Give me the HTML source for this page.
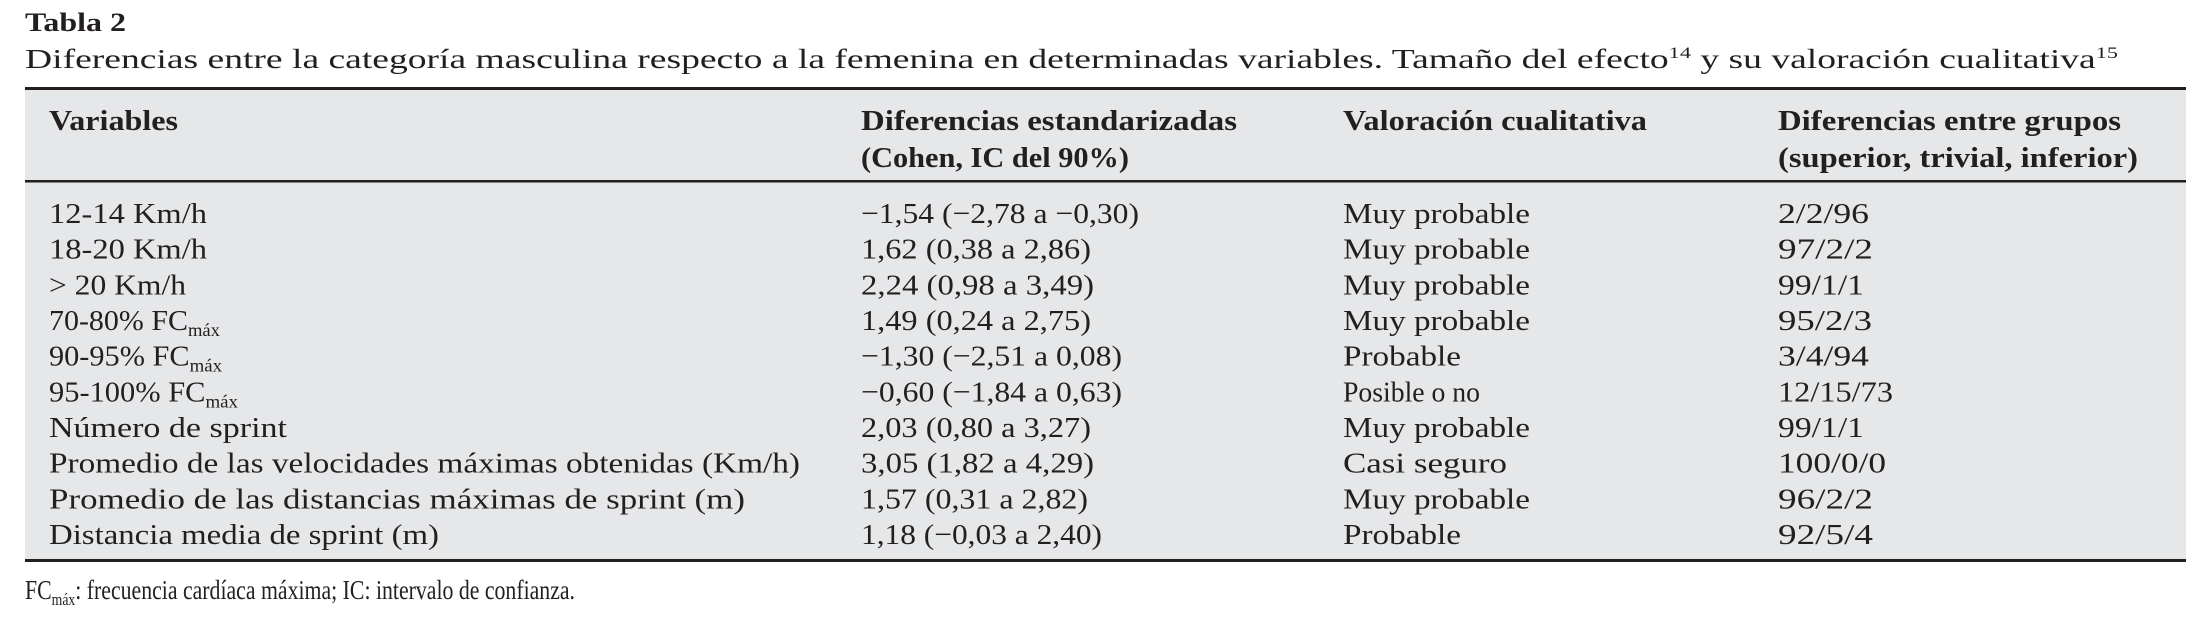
<!DOCTYPE html>
<html><head><meta charset="utf-8"><style>
html,body{margin:0;padding:0;background:#fff;}
svg{display:block;}
text{font-family:"Liberation Serif",serif;fill:#231f20;}
.b{font-weight:bold;}
</style></head><body>
<svg width="2200" height="620" viewBox="0 0 2200 620">
<text class="b" x="25" y="31" font-size="26" textLength="101" lengthAdjust="spacingAndGlyphs">Tabla 2</text>
<text x="25" y="68" font-size="27" textLength="2093" lengthAdjust="spacingAndGlyphs">Diferencias entre la categoría masculina respecto a la femenina en determinadas variables. Tamaño del efecto<tspan font-size="16" dy="-10">14</tspan><tspan dy="10"> y su valoración cualitativa</tspan><tspan font-size="16" dy="-10">15</tspan></text>
<rect x="25" y="88" width="2161" height="473" fill="#e6e7e8"/>
<rect x="25" y="87" width="2161" height="3" fill="#231f20"/>
<rect x="25" y="180" width="2161" height="2.5" fill="#231f20"/>
<rect x="25" y="559" width="2161" height="3" fill="#231f20"/>
<g class="b" font-size="28">
<text class="b" x="49" y="130" textLength="129" lengthAdjust="spacingAndGlyphs">Variables</text>
<text class="b" x="861" y="130" textLength="376" lengthAdjust="spacingAndGlyphs">Diferencias estandarizadas</text>
<text class="b" x="861" y="167" textLength="268" lengthAdjust="spacingAndGlyphs">(Cohen, IC del 90%)</text>
<text class="b" x="1343" y="130" textLength="304" lengthAdjust="spacingAndGlyphs">Valoración cualitativa</text>
<text class="b" x="1778" y="130" textLength="343" lengthAdjust="spacingAndGlyphs">Diferencias entre grupos</text>
<text class="b" x="1778" y="167" textLength="360" lengthAdjust="spacingAndGlyphs">(superior, trivial, inferior)</text>
</g>
<g font-size="29">
<text x="49" y="223" textLength="158" lengthAdjust="spacingAndGlyphs">12-14 Km/h</text>
<text x="861" y="223" textLength="278" lengthAdjust="spacingAndGlyphs">−1,54 (−2,78 a −0,30)</text>
<text x="1343" y="223" textLength="187" lengthAdjust="spacingAndGlyphs">Muy probable</text>
<text x="1778" y="223" textLength="91" lengthAdjust="spacingAndGlyphs">2/2/96</text>

<text x="49" y="258.7" textLength="158" lengthAdjust="spacingAndGlyphs">18-20 Km/h</text>
<text x="861" y="258.7" textLength="230" lengthAdjust="spacingAndGlyphs">1,62 (0,38 a 2,86)</text>
<text x="1343" y="258.7" textLength="187" lengthAdjust="spacingAndGlyphs">Muy probable</text>
<text x="1778" y="258.7" textLength="95" lengthAdjust="spacingAndGlyphs">97/2/2</text>

<text x="49" y="294.3" textLength="137" lengthAdjust="spacingAndGlyphs">&gt; 20 Km/h</text>
<text x="861" y="294.3" textLength="233" lengthAdjust="spacingAndGlyphs">2,24 (0,98 a 3,49)</text>
<text x="1343" y="294.3" textLength="187" lengthAdjust="spacingAndGlyphs">Muy probable</text>
<text x="1778" y="294.3" textLength="86" lengthAdjust="spacingAndGlyphs">99/1/1</text>

<text x="49" y="330" textLength="171" lengthAdjust="spacingAndGlyphs">70-80% FC<tspan font-size="18" dy="6">máx</tspan></text>
<text x="861" y="330" textLength="230" lengthAdjust="spacingAndGlyphs">1,49 (0,24 a 2,75)</text>
<text x="1343" y="330" textLength="187" lengthAdjust="spacingAndGlyphs">Muy probable</text>
<text x="1778" y="330" textLength="94" lengthAdjust="spacingAndGlyphs">95/2/3</text>

<text x="49" y="365.7" textLength="173" lengthAdjust="spacingAndGlyphs">90-95% FC<tspan font-size="18" dy="6">máx</tspan></text>
<text x="861" y="365.7" textLength="261" lengthAdjust="spacingAndGlyphs">−1,30 (−2,51 a 0,08)</text>
<text x="1343" y="365.7" textLength="118" lengthAdjust="spacingAndGlyphs">Probable</text>
<text x="1778" y="365.7" textLength="91" lengthAdjust="spacingAndGlyphs">3/4/94</text>

<text x="49" y="401.3" textLength="189" lengthAdjust="spacingAndGlyphs">95-100% FC<tspan font-size="18" dy="6">máx</tspan></text>
<text x="861" y="401.3" textLength="261" lengthAdjust="spacingAndGlyphs">−0,60 (−1,84 a 0,63)</text>
<text x="1343" y="401.3" textLength="137" lengthAdjust="spacingAndGlyphs">Posible o no</text>
<text x="1778" y="401.3" textLength="115" lengthAdjust="spacingAndGlyphs">12/15/73</text>

<text x="49" y="437" textLength="238" lengthAdjust="spacingAndGlyphs">Número de sprint</text>
<text x="861" y="437" textLength="230" lengthAdjust="spacingAndGlyphs">2,03 (0,80 a 3,27)</text>
<text x="1343" y="437" textLength="187" lengthAdjust="spacingAndGlyphs">Muy probable</text>
<text x="1778" y="437" textLength="86" lengthAdjust="spacingAndGlyphs">99/1/1</text>

<text x="49" y="472.7" textLength="751" lengthAdjust="spacingAndGlyphs">Promedio de las velocidades máximas obtenidas (Km/h)</text>
<text x="861" y="472.7" textLength="233" lengthAdjust="spacingAndGlyphs">3,05 (1,82 a 4,29)</text>
<text x="1343" y="472.7" textLength="164" lengthAdjust="spacingAndGlyphs">Casi seguro</text>
<text x="1778" y="472.7" textLength="108" lengthAdjust="spacingAndGlyphs">100/0/0</text>

<text x="49" y="508.3" textLength="696" lengthAdjust="spacingAndGlyphs">Promedio de las distancias máximas de sprint (m)</text>
<text x="861" y="508.3" textLength="227" lengthAdjust="spacingAndGlyphs">1,57 (0,31 a 2,82)</text>
<text x="1343" y="508.3" textLength="187" lengthAdjust="spacingAndGlyphs">Muy probable</text>
<text x="1778" y="508.3" textLength="95" lengthAdjust="spacingAndGlyphs">96/2/2</text>

<text x="49" y="544" textLength="390" lengthAdjust="spacingAndGlyphs">Distancia media de sprint (m)</text>
<text x="861" y="544" textLength="241" lengthAdjust="spacingAndGlyphs">1,18 (−0,03 a 2,40)</text>
<text x="1343" y="544" textLength="118" lengthAdjust="spacingAndGlyphs">Probable</text>
<text x="1778" y="544" textLength="95" lengthAdjust="spacingAndGlyphs">92/5/4</text>
</g>
<text x="25" y="599" font-size="27" textLength="550" lengthAdjust="spacingAndGlyphs">FC<tspan font-size="17" dy="6">máx</tspan><tspan dy="-6">: frecuencia cardíaca máxima; IC: intervalo de confianza.</tspan></text>
</svg>
</body></html>
